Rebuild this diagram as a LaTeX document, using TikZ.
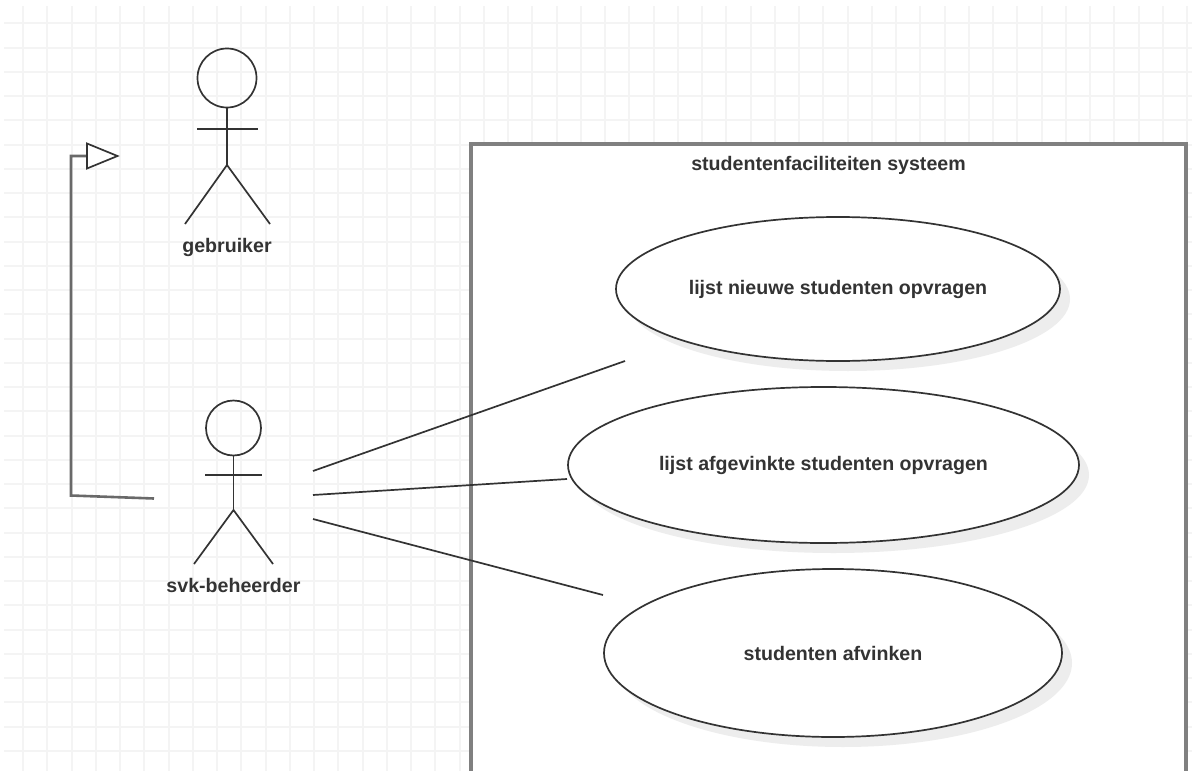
\documentclass[tikz,border=0pt]{standalone}
\usepackage{fontspec}
\setmainfont{Liberation Sans}
\usetikzlibrary{shapes.geometric,shadows}
\definecolor{gridc}{HTML}{F4F4F4}
\definecolor{ink}{HTML}{333333}
\definecolor{boxc}{HTML}{808080}
\tikzset{
  lbl/.style={font=\bfseries\fontsize{19.6}{22}\selectfont,text=ink,inner sep=0pt},
  usecase/.style={ellipse,draw=ink,line width=1.7pt,fill=white,inner sep=0pt,
    font=\bfseries\fontsize{19.6}{22}\selectfont,text=ink,
    drop shadow={shadow xshift=10pt,shadow yshift=-10pt,fill=black!7,opacity=1}},
  limb/.style={draw=ink,line width=1.7pt},
  conn/.style={draw=ink,line width=1.7pt},
  gen/.style={draw=boxc!70!ink,line width=2.6pt,line join=miter},
  frame/.style={draw=boxc,line width=3.2pt,fill=white},
}
\begin{document}
\begin{tikzpicture}[x=1pt,y=-1pt]
\useasboundingbox (0,0) rectangle (1192,771);
\fill[white] (0,0) rectangle (1192,771);
% grid
\foreach \i in {0,...,48} \draw[gridc,line width=2pt] ({round(23+24.25*\i)},6) -- ({round(23+24.25*\i)},771);
\foreach \j in {0,...,31} \draw[gridc,line width=2pt] (4,{round(23.3+24.25*\j)}) -- (1192,{round(23.3+24.25*\j)});
% system frame
\draw[frame] (471,144) -- (1186,144) -- (1186,775) -- (471,775) -- cycle;
\node[lbl] (title) at (828.5,165.5) {studentenfaciliteiten systeem};
% use cases
\node[usecase,minimum width=444pt,minimum height=144pt] (uc1) at (838,289) {\raisebox{-1pt}{lijst nieuwe studenten opvragen}};
\node[usecase,minimum width=511pt,minimum height=156pt] (uc2) at (823.5,465) {\raisebox{-1pt}{lijst afgevinkte studenten opvragen}};
\node[usecase,minimum width=458pt,minimum height=168pt] (uc3) at (833,653) {studenten afvinken};
% actor gebruiker
\node[circle,draw=ink,line width=1.7pt,minimum size=59pt,inner sep=0pt] (headA) at (227,78) {};
\coordinate (hipA) at (227,165);
\draw[limb] (headA.south) -- (hipA);
\draw[limb] (197,129) -- (258,129);
\draw[limb] (185,224) -- (hipA) -- (270,224);
\node[lbl] (actorA) at (227,247.5) {gebruiker};
% actor svk-beheerder
\node[circle,draw=ink,line width=1.7pt,minimum size=55pt,inner sep=0pt] (headB) at (233.5,428) {};
\coordinate (hipB) at (233.5,510);
\draw[limb] (headB.south) -- (hipB);
\draw[limb] (205,475) -- (262,475);
\draw[limb] (194,564) -- (hipB) -- (273,564);
\node[lbl] (actorB) at (233.5,585.5) {svk-beheerder};
% associations
\coordinate (a1) at (313,471); \coordinate (e1) at (625,361);
\coordinate (a2) at (313,495); \coordinate (e2) at (567,479);
\coordinate (a3) at (313,519); \coordinate (e3) at (603,595);
\draw[conn] (a1) -- (e1);
\draw[conn] (a2) -- (e2);
\draw[conn] (a3) -- (e3);
% generalization
\coordinate (g0) at (154,498.5); \coordinate (g1) at (71,495.5); \coordinate (g2) at (71,156); \coordinate (g3) at (87,156);
\draw[gen] (g0) -- (g1) -- (g2) -- (g3);
\draw[limb,fill=white,line join=miter] (87,143.5) -- (117.5,156) -- (87,168.5) -- cycle;
\end{tikzpicture}
\end{document}
